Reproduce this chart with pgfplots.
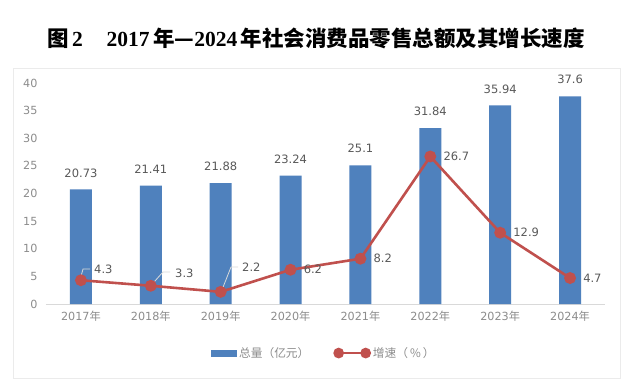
\documentclass[border=0pt]{standalone}
\usepackage{fontspec}
\setmainfont{DejaVu Sans}
\newfontfamily\cjk{Noto Sans CJK SC}
\newfontfamily\titlelatin{Liberation Serif}
\usepackage{pgfplots}
\pgfplotsset{compat=1.18}
\definecolor{barblue}{HTML}{4F81BD}
\definecolor{linered}{HTML}{C0504D}
\definecolor{ticklab}{HTML}{8C8C8C}
\definecolor{datalab}{HTML}{595959}
\definecolor{framec}{HTML}{EBEBEB}
\definecolor{basec}{HTML}{D9D9D9}
\definecolor{leader}{HTML}{D9D9D9}
\pgfplotsset{
  barleg/.style={legend image code/.code={\fill[barblue] (0pt,-3.5pt) rectangle (26pt,3.5pt);}},
  lineleg/.style={legend image code/.code={\draw[linered, line width=2.2pt] (0pt,0pt) -- (27pt,0pt);
     \fill[linered] (0pt,0pt) circle (4pt); \fill[linered] (27pt,0pt) circle (4pt);}},
}
\begin{document}
\begin{tikzpicture}[x=1pt,y=1pt]
\useasboundingbox (0,0) rectangle (633,381);
\fill[white] (0,0) rectangle (633,381);
\draw[framec] (13.5,3) rectangle (620,313);
\node[font=\fontsize{21.5}{24}\selectfont\bfseries] at (316,343)
  {\cjk 图\,{\titlelatin 2}\hspace{1.1em}{\titlelatin 2017}\,年—{\titlelatin 2024}\,年社会消费品零售总额及其增长速度};
\begin{axis}[
  at={(46pt,77pt)}, anchor=south west,
  scale only axis, width=559pt, height=221pt,
  xmin=-0.5, xmax=7.5, ymin=0, ymax=40,
  ytick={0,5,...,40},
  xtick={0,...,7},
  xticklabels={2017{\cjk 年},2018{\cjk 年},2019{\cjk 年},2020{\cjk 年},2021{\cjk 年},2022{\cjk 年},2023{\cjk 年},2024{\cjk 年}},
  /pgf/number format/assume math mode=true,
  axis x line*=bottom, axis y line*=left,
  y axis line style={draw=none},
  x axis line style={draw=basec, line width=0.8pt, -},
  major tick length=0pt, tick style={draw=none},
  ticklabel style={font=\fontsize{11.2}{12}\selectfont, text=ticklab},
  xticklabel style={yshift=-4pt},
  yticklabel style={xshift=-5pt},
  clip=false,
  legend style={at={(0.497,-0.222)}, anchor=center, draw=none, fill=none,
    font=\fontsize{11.7}{12}\selectfont\cjk, text=ticklab,
    legend columns=2,
    /tikz/every even column/.append style={column sep=22pt}},
]
\addplot[ybar, bar width=22pt, fill=barblue, draw=none,
  nodes near coords, point meta=explicit symbolic,
  every node near coord/.style={anchor=south, inner sep=0pt, yshift=12pt,
    font=\fontsize{11.5}{12}\selectfont, text=datalab},
  barleg]
  table[meta=label] {
x y label
0 20.73 20.73
1 21.41 21.41
2 21.88 21.88
3 23.24 23.24
4 25.1 25.1
5 31.84 31.84
6 35.94 35.94
7 37.6 37.6
};
\addlegendentry{总量（亿元）}
\addplot[linered, line width=2.6pt, mark=*, mark size=4.6pt, mark options={solid, fill=linered},
  lineleg]
  table {
x y
0 4.3
1 3.3
2 2.2
3 6.2
4 8.2
5 26.7
6 12.9
7 4.7
};
\addlegendentry{增速（\,\%\,）}
% labels to the right of the points
\addplot[draw=none, mark=none, forget plot,
  nodes near coords, point meta=explicit symbolic,
  every node near coord/.style={anchor=west, inner sep=0pt, xshift=13pt,
    font=\fontsize{11.5}{12}\selectfont, text=datalab}]
  table[meta=label] {
x y label
3 6.2 6.2
4 8.2 8.2
5 26.7 26.7
6 12.9 12.9
7 4.7 4.7
};
% leader lines and labels for the first three points
\draw[leader, line width=0.8pt] (axis cs:0.005,5.2) -- (axis cs:0.03,6.33) -- (axis cs:0.13,6.33);
\draw[leader, line width=0.8pt] (axis cs:1.02,3.6) -- (axis cs:1.174,5.79) -- (axis cs:1.275,5.79);
\draw[leader, line width=0.8pt] (axis cs:2.02,2.6) -- (axis cs:2.148,6.70) -- (axis cs:2.248,6.70);
\node[anchor=west, inner sep=0pt, font=\fontsize{11.5}{12}\selectfont, text=datalab] at (axis cs:0.187,6.33) {4.3};
\node[anchor=west, inner sep=0pt, font=\fontsize{11.5}{12}\selectfont, text=datalab] at (axis cs:1.346,5.61) {3.3};
\node[anchor=west, inner sep=0pt, font=\fontsize{11.5}{12}\selectfont, text=datalab] at (axis cs:2.305,6.70) {2.2};
\end{axis}
\end{tikzpicture}
\end{document}
